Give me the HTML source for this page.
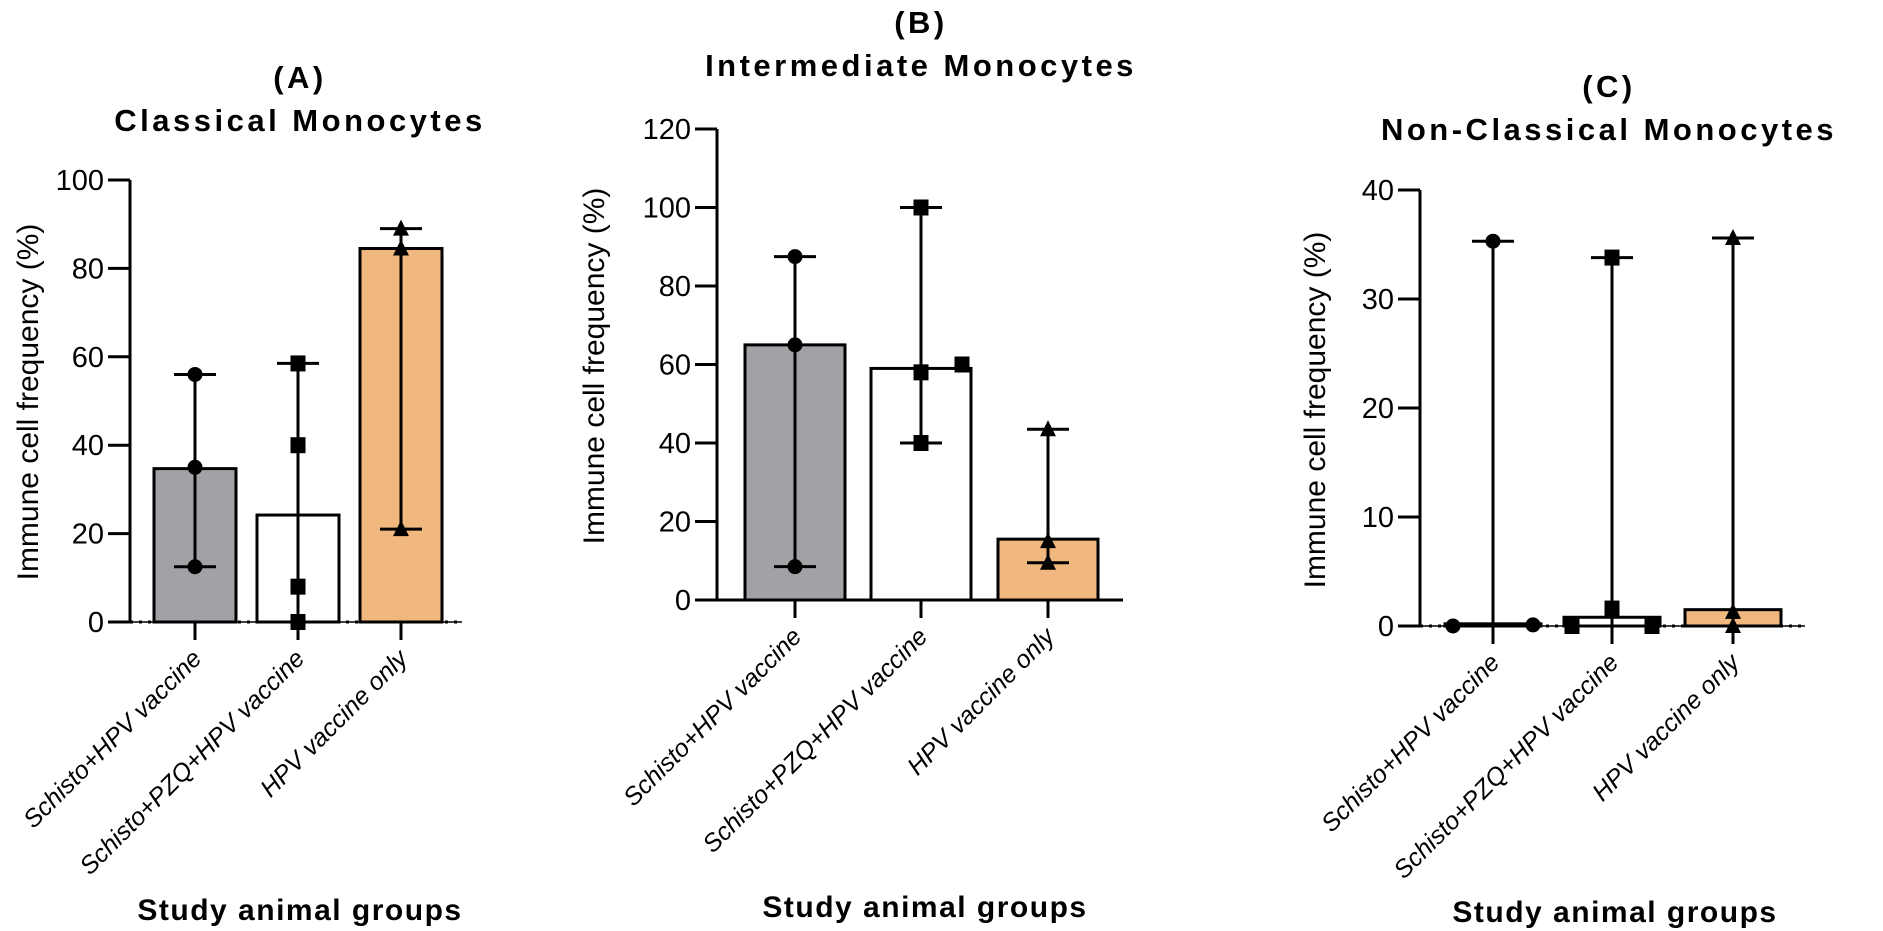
<!DOCTYPE html>
<html><head><meta charset="utf-8"><style>
body{margin:0;background:#fff;}
svg{display:block;font-family:"Liberation Sans",Arial,sans-serif;}
.t{font-weight:bold;font-size:31px;letter-spacing:3.5px;}
.s{font-weight:bold;font-size:30px;letter-spacing:1.5px;}
</style></head><body>
<svg id="c" width="1883" height="931" viewBox="0 0 1883 931"></svg>
<script>
const categories=["Schisto+HPV vaccine","Schisto+PZQ+HPV vaccine","HPV vaccine only"];
const aTicks=[0,20,40,60,80,100];
const aMeans=[34.7,24.2,84.5];
const aPoints=[[56,35,12.5],[58.5,40,8,0],[89,84.5,21]];
const aLow=[12.5,0,21];
const aHigh=[56,58.5,89];
const bTicks=[0,20,40,60,80,100,120];
const bMeans=[65,59,15.5];
const bPoints=[[87.5,65,8.5],[100,58,60,40],[43.5,15,9.5]];
const bLow=[8.5,40,9.5];
const bHigh=[87.5,100,43.5];
const cTicks=[0,10,20,30,40];
const cMeans=[0.2,0.8,1.5];
const cPoints=[[35.3,0,0.1],[33.8,1.6,0,0],[35.6,1.3,0]];
const cLow=[null,null,null];
const cHigh=[35.3,33.8,35.6];
const fills=["#a2a2a6","#ffffff","#f0b87e"];
const shapes=["circle","square","triangle"];
const NS="http://www.w3.org/2000/svg";
const svg=document.getElementById('c');
function mk(t,a,p){const e=document.createElementNS(NS,t);for(const k in a)e.setAttribute(k,a[k]);(p||svg).appendChild(e);return e;}
function panel(o){
 const g=mk('g',{});
 
 
 const y=v=>o.y0-(v-o.min)/(o.max-o.min)*(o.y0-o.yTop);
 const bw=o.bw;
 o.means.forEach((m,i)=>{
  const r=mk('rect',{x:o.cx[i]-bw/2,y:y(m),width:bw,height:o.y0-y(m),fill:fills[i],stroke:'#000','stroke-width':3},g);
  
  
 });
 const ya=mk('line',{x1:o.ax,y1:o.yTop,x2:o.ax,y2:o.y0,stroke:'#000','stroke-width':3},g);
 
 
 const xa=mk('line',{x1:o.ax,y1:o.y0,x2:o.xEnd,y2:o.y0,stroke:'#000','stroke-width':3,'stroke-dasharray':o.dotted?'3 6':'none'},g);
 
 
 if(o.dotted) mk('line',{x1:o.ax,y1:o.y0,x2:o.xEnd,y2:o.y0,stroke:'#000','stroke-width':1.5},g);
 o.ticks.forEach(t=>{
  mk('line',{x1:o.ax-22,y1:y(t),x2:o.ax,y2:y(t),stroke:'#000','stroke-width':3},g);
  const tx=mk('text',{x:o.ax-26,y:y(t)+10,'text-anchor':'end','font-size':29},g);
  tx.textContent=t;
  
  
 });
 o.means.forEach((m,i)=>{
  const cx=o.cx[i];
  const hi=o.high[i], lo=o.low[i];
  const bot=lo==null?o.y0+18:y(lo);
  mk('line',{x1:cx,y1:y(hi),x2:cx,y2:bot,stroke:'#000','stroke-width':3},g);
  mk('line',{x1:cx-21,y1:y(hi),x2:cx+21,y2:y(hi),stroke:'#000','stroke-width':3},g);
  if(lo!=null) mk('line',{x1:cx-21,y1:y(lo),x2:cx+21,y2:y(lo),stroke:'#000','stroke-width':3},g);
  mk('line',{x1:cx,y1:o.y0,x2:cx,y2:o.y0+18,stroke:'#000','stroke-width':3},g);
  o.points[i].forEach((v,j)=>{
   const px=cx+(o.off[i][j]||0), py=y(v);
   let e;
   if(shapes[i]=='circle') e=mk('circle',{cx:px,cy:py,r:7.5,fill:'#000'},g);
   else if(shapes[i]=='square') e=mk('rect',{x:px-7.5,y:py-8,width:15,height:16,fill:'#000'},g);
   else e=mk('polygon',{points:`${px},${py-9} ${px-8},${py+7} ${px+8},${py+7}`,fill:'#000'},g);
   
   
  });
  const lab=mk('text',{x:0,y:0,'text-anchor':'end','font-size':25,'font-style':'italic',transform:`translate(${cx+8},${o.y0+38}) rotate(-45)`},g);
  lab.textContent=categories[i];
  
  
 });
 const yl=mk('text',{x:0,y:0,'text-anchor':'middle','font-size':30,transform:`translate(${o.ylx},${o.yly}) rotate(-90)`},g);
 yl.textContent='Immune cell frequency (%)';
 
 
 const t1=mk('text',{x:o.tx,y:o.t1y,'text-anchor':'middle',class:'t'},g);
 t1.textContent=o.letter;
 
 
 const t2=mk('text',{x:o.tx,y:o.t2y,'text-anchor':'middle',class:'t'},g);
 t2.textContent=o.title;
 
 
 const xl=mk('text',{x:o.sx,y:o.sy,'text-anchor':'middle',class:'s'},g);
 xl.textContent='Study animal groups';
 
 
}
panel({name:'panel-a-classical',ax:130,xEnd:462,y0:622,yTop:180,min:0,max:100,ticks:aTicks,means:aMeans,points:aPoints,low:aLow,high:aHigh,
 cx:[195,298,401],bw:82,off:[[0,0,0],[0,0,0,0],[0,0,0]],dotted:true,ylx:38,yly:402,tx:300,t1y:88,t2y:131,letter:'(A)',title:'Classical Monocytes',sx:300,sy:920});
panel({name:'panel-b-intermediate',ax:717,xEnd:1123,y0:600,yTop:129,min:0,max:120,ticks:bTicks,means:bMeans,points:bPoints,low:bLow,high:bHigh,
 cx:[795,921,1048],bw:100,off:[[0,0,0],[0,0,41,0],[0,0,0]],dotted:false,ylx:604,yly:366,tx:921,t1y:33,t2y:76,letter:'(B)',title:'Intermediate Monocytes',sx:925,sy:917});
panel({name:'panel-c-nonclassical',ax:1420,xEnd:1805,y0:626,yTop:190,min:0,max:40,ticks:cTicks,means:cMeans,points:cPoints,low:cLow,high:cHigh,
 cx:[1493,1612,1733],bw:96,off:[[0,-40,40],[0,0,-40,40],[0,0,0]],dotted:true,ylx:1325,yly:410,tx:1609,t1y:97,t2y:140,letter:'(C)',title:'Non-Classical Monocytes',sx:1615,sy:922});
</script>
</body></html>
